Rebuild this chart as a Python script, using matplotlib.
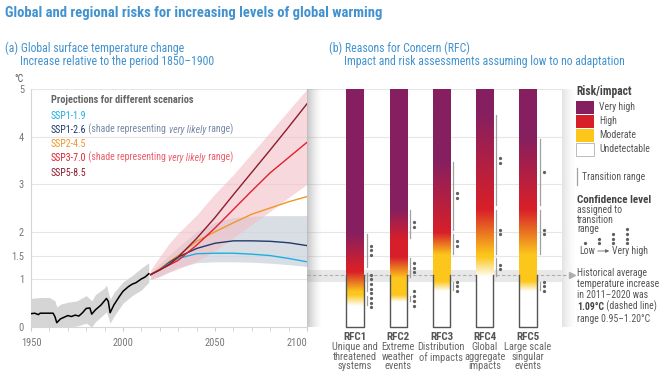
import numpy as np
import matplotlib
matplotlib.use("Agg")
import matplotlib.pyplot as plt
from matplotlib import transforms
from matplotlib.colors import to_rgb
from matplotlib.patches import Rectangle

plt.rcParams['font.family'] = ['Roboto Condensed', 'DejaVu Sans']

W, H = 672, 378

# ---- data ----
hist_years = [1950, 1952, 1954, 1955, 1960, 1962, 1963, 1964, 1965, 1966, 1970, 1972,
              1974, 1976, 1978, 1980, 1982, 1983, 1985, 1988, 1991, 1992, 1993, 1995,
              1998, 2000, 2003, 2005, 2007, 2010, 2012, 2014]
hist_temp = [0.28, 0.29, 0.26, 0.29, 0.29, 0.29, 0.22, 0.09, 0.13, 0.17, 0.24, 0.22,
             0.25, 0.23, 0.30, 0.39, 0.40, 0.27, 0.36, 0.46, 0.60, 0.54, 0.30, 0.46,
             0.64, 0.75, 0.85, 0.90, 0.93, 1.01, 1.05, 1.12]
band_years = [1950, 1955, 1960, 1963, 1964, 1966, 1970, 1975, 1980, 1983, 1985, 1990,
              1991, 1993, 1995, 2000, 2005, 2010, 2014]
band_hi = [0.60, 0.62, 0.62, 0.55, 0.42, 0.48, 0.52, 0.55, 0.66, 0.55, 0.68, 0.82,
           0.88, 0.58, 0.72, 0.95, 1.08, 1.24, 1.35]
band_lo = [0.0, 0.0, 0.0, 0.0, 0.0, 0.0, 0.0, 0.02, 0.08, 0.0, 0.11, 0.28,
           0.32, 0.08, 0.22, 0.50, 0.66, 0.78, 0.94]

proj_years = [2015, 2020, 2025, 2030, 2040, 2050, 2060, 2070, 2080, 2090, 2100]
ssp119 = [1.10, 1.20, 1.33, 1.44, 1.54, 1.55, 1.55, 1.53, 1.50, 1.44, 1.37]
ssp126 = [1.10, 1.20, 1.35, 1.47, 1.65, 1.76, 1.81, 1.81, 1.80, 1.77, 1.71]
ssp245 = [1.10, 1.22, 1.37, 1.50, 1.80, 2.00, 2.19, 2.37, 2.50, 2.63, 2.74]
ssp370 = [1.10, 1.20, 1.30, 1.40, 1.72, 2.08, 2.47, 2.86, 3.24, 3.56, 3.88]
ssp585 = [1.10, 1.20, 1.31, 1.47, 1.86, 2.30, 2.78, 3.25, 3.72, 4.20, 4.69]
ssp126_lo = [1.00, 1.06, 1.16, 1.25, 1.35, 1.37, 1.37, 1.36, 1.34, 1.31, 1.27]
ssp126_hi = [1.15, 1.33, 1.50, 1.68, 2.00, 2.20, 2.30, 2.33, 2.34, 2.34, 2.34]
ssp370_lo = [1.00, 1.07, 1.15, 1.22, 1.38, 1.60, 1.88, 2.15, 2.43, 2.72, 3.00]
ssp370_hi = [1.20, 1.48, 1.75, 1.97, 2.35, 2.80, 3.20, 3.65, 4.10, 4.55, 5.00]

rfc_names = ["RFC1", "RFC2", "RFC3", "RFC4", "RFC5"]
rfc_desc = ["Unique and\nthreatened\nsystems", "Extreme\nweather\nevents",
            "Distribution\nof impacts", "Global\naggregate\nimpacts",
            "Large scale\nsingular\nevents"]
# transition ranges (°C): undetectable->moderate, moderate->high, high->very high
rfc_trans = [
    [(0.44, 0.68), (0.74, 1.16), (1.24, 1.98)],
    [(0.53, 0.67), (1.03, 1.47), (1.84, 2.47)],
    [(0.75, 0.96), (1.52, 1.98), (2.02, 3.49)],
    [(1.05, 1.47), (1.52, 2.47), (2.54, 4.47)],
    [(0.75, 0.96), (1.52, 2.47), (2.54, 3.98)],
]
rfc_conf = [[4, 4, 3], [4, 3, 2], [3, 2, 2], [2, 2, 2], [3, 2, 1]]
hist_mean = 1.09
hist_range = (0.95, 1.20)

levels = ["Very high", "High", "Moderate", "Undetectable"]
level_colors = ['#ffffff', '#fcc61b', '#d71f2a', '#861f60']  # undetectable .. very high

BLUE = '#4292cf'


def px_axes(x0, x1, y0, y1):
    # figure rect from pixel edges (y measured from top)
    return [x0 / W, 1 - y1 / H, (x1 - x0) / W, (y1 - y0) / H]


fig = plt.figure(figsize=(W / 100, H / 100), dpi=100)

# ---- (a) temperature panel ----
ax = fig.add_axes(px_axes(31, 307, 89, 327))
for g in [1, 1.5, 2, 3, 4, 5]:
    ax.axhline(g, color='#e6e6e6', lw=0.8, zorder=0)
ax.fill_between(band_years, band_lo, band_hi, color='#d5d5d5', lw=0, zorder=1)
ax.plot(hist_years, hist_temp, color='black', lw=1.1, zorder=3)
ax.fill_between(proj_years, ssp126_lo, ssp126_hi, color='#cdd3dd', alpha=0.75, lw=0, zorder=1)
ax.fill_between(proj_years, ssp370_lo, ssp370_hi, color='#f3bfc6', alpha=0.6, lw=0, zorder=1)
ax.plot(proj_years, ssp245, color='#f0962a', lw=1.0, zorder=3)
ax.plot(proj_years, ssp126, color='#1f3a6b', lw=1.0, zorder=3)
ax.plot(proj_years, ssp119, color='#1cb0e0', lw=1.0, zorder=3)
ax.plot(proj_years, ssp370, color='#e3202b', lw=1.0, zorder=3)
ax.plot(proj_years, ssp585, color='#8e1b2e', lw=1.0, zorder=3)
ax.set_xlim(1950, 2100)
ax.set_ylim(0, 5)
ax.set_yticks([0, 1, 1.5, 2, 3, 4, 5])
ax.set_yticklabels(['0', '1', '1.5', '2', '3', '4', '5'])
ax.set_xticks([1950, 2000, 2050, 2100])
ax.set_xticks(range(1960, 2100, 10), minor=True)
ax.tick_params(axis='y', length=0, pad=5, labelsize=7.5, labelcolor='#777777')
ax.tick_params(axis='x', which='both', length=3, color='#cccccc', pad=5,
               labelsize=7.5, labelcolor='#777777')
ax.get_xticklabels()[-1].set_ha('right')
for s in ['top', 'right']:
    ax.spines[s].set_visible(False)
for s in ['left', 'bottom']:
    ax.spines[s].set_color('#d6d6d6')
    ax.spines[s].set_linewidth(0.8)

# ---- (b) reasons for concern panel ----
axr = fig.add_axes(px_axes(307, 562, 89, 327))
axr.axhspan(*hist_range, color='#e8e8e8', lw=0, zorder=0)
for g in [1.5, 2, 3, 4, 5]:
    axr.axhline(g, color='#e6e6e6', lw=0.8, zorder=0)
bt = transforms.blended_transform_factory(axr.transAxes, axr.transData)
axr.plot([0, 1.025], [hist_mean, hist_mean], color='#b0b0b0', lw=0.8,
         ls=(0, (3, 2)), transform=bt, clip_on=False, zorder=1)
axr.plot([1.04], [hist_mean], marker='>', ms=4, color='#b0b0b0', transform=bt,
         clip_on=False)

tgrid = np.linspace(0, 5, 600)
for i, trans in enumerate(rfc_trans):
    st, sc = [0.0], [level_colors[0]]
    for k, (a, b) in enumerate(trans):
        st += [a, b]
        sc += [level_colors[k], level_colors[k + 1]]
    st.append(5.0)
    sc.append(level_colors[-1])
    rgb = np.array([to_rgb(c) for c in sc])
    img = np.stack([np.interp(tgrid, st, rgb[:, j]) for j in range(3)], axis=-1)[:, None, :]
    axr.imshow(img, extent=(i - 0.2, i + 0.2, 0, 5), origin='lower', aspect='auto',
               interpolation='bilinear', zorder=2)
    axr.plot([i - 0.2, i - 0.2, i + 0.2, i + 0.2], [hist_mean, 0, 0, hist_mean],
             color='#555555', lw=1.0, zorder=3, clip_on=False)
    for (a, b), n in zip(trans, rfc_conf[i]):
        axr.plot([i + 0.27, i + 0.27], [a + 0.02, b - 0.02], color='#a0a0a0', lw=0.9, zorder=3)
        mid = (a + b) / 2
        ys = mid + (np.arange(n) - (n - 1) / 2) * 0.1
        axr.scatter([i + 0.36] * n, ys, s=5.5, color='#606060', lw=0, zorder=3)
axr.set_xlim(-1.108, 4.785)
axr.set_ylim(0, 5)
axr.axis('off')

# ---- overlay in pixel coordinates: shadows and text ----
ov = fig.add_axes([0, 0, 1, 1], zorder=10)


def shadow(x0, x1, y0, y1, amax):
    a = amax * (1 - np.linspace(0, 1, 40)) ** 1.6
    rgba = np.zeros((1, 40, 4))
    rgba[..., :3] = 0.55
    rgba[..., 3] = a
    ov.imshow(rgba, extent=(x0, x1, y1, y0), aspect='auto', interpolation='bilinear')


shadow(307, 323, 89, 327, 0.5)
shadow(562, 577, 89, 327, 0.25)
ov.set_xlim(0, W)
ov.set_ylim(H, 0)
ov.axis('off')


def rich(x, y, parts, size=7):
    prev = None
    for s, color, style, weight in parts:
        kw = dict(fontsize=size, color=color, fontstyle=style, fontweight=weight)
        if prev is None:
            prev = ov.text(x, y, s, va='center', ha='left', **kw)
        else:
            prev = ov.annotate(s, xy=(1, 0), xycoords=prev, va='bottom', ha='left', **kw)


ov.text(5, 13, "Global and regional risks for increasing levels of global warming",
        fontsize=10.5, fontweight='bold', color=BLUE, va='center')
ov.text(5, 48, "(a) Global surface temperature change", fontsize=8.5, color=BLUE, va='center')
ov.text(20, 61, "Increase relative to the period 1850–1900", fontsize=8.5, color=BLUE, va='center')
ov.text(329, 48, "(b) Reasons for Concern (RFC)", fontsize=8.5, color=BLUE, va='center')
ov.text(344, 61, "Impact and risk assessments assuming low to no adaptation", fontsize=8.5,
        color=BLUE, va='center')
ov.text(19, 79, "°C", fontsize=7, color='#555555', ha='center', va='center')

ov.text(51, 100, "Projections for different scenarios", fontsize=7.5, fontweight='bold',
        color='#666666', va='center')
rich(51, 116, [("SSP1-1.9", '#1cb0e0', 'normal', 'normal')], size=7.1)
rich(51, 130, [("SSP1-2.6", '#1f3a6b', 'normal', 'normal'),
               (" (shade representing ", '#7a88a6', 'normal', 'normal'),
               ("very likely", '#7a88a6', 'italic', 'normal'),
               (" range)", '#7a88a6', 'normal', 'normal')], size=7.1)
rich(51, 144, [("SSP2-4.5", '#f0962a', 'normal', 'normal')], size=7.1)
rich(51, 158, [("SSP3-7.0", '#e3202b', 'normal', 'normal'),
               (" (shade representing ", '#ea5f6a', 'normal', 'normal'),
               ("very likely", '#ea5f6a', 'italic', 'normal'),
               (" range)", '#ea5f6a', 'normal', 'normal')], size=7.1)
rich(51, 173, [("SSP5-8.5", '#8e1b2e', 'normal', 'normal')], size=7.1)

lab_t = transforms.blended_transform_factory(axr.transData, ov.transData)
for i, (nm, ds) in enumerate(zip(rfc_names, rfc_desc)):
    ov.text(i, 337, nm, transform=lab_t, ha='center', va='center', fontsize=8,
            fontweight='bold', color='#555555')
    ov.text(i, 342.5, ds, transform=lab_t, ha='center', va='top', fontsize=7.5,
            color='#666666', linespacing=0.92)

# legend
ov.text(576, 91, "Risk/impact", fontsize=8.3, fontweight='bold', color='#444444', va='center')
sw_y = [101, 115, 129, 143]
for lv, y, c in zip(levels, sw_y, level_colors[::-1]):
    ov.add_patch(Rectangle((576, y), 18, 12.5, facecolor=c,
                           edgecolor='#bbbbbb' if c == '#ffffff' else 'none', lw=0.7))
    ov.text(599, y + 6.5, lv, fontsize=7, color='#555555', va='center')
ov.plot([577, 577], [168, 185], color='#a0a0a0', lw=0.9)
ov.text(582, 177, "Transition range", fontsize=7, color='#555555', va='center')
ov.text(577, 200, "Confidence level", fontsize=8, fontweight='bold', color='#444444', va='center')
ov.text(577, 205, "assigned to\ntransition\nrange", fontsize=7, color='#555555', va='top',
        linespacing=0.95)
for k, cx in enumerate([585, 599, 613, 627]):
    n = k + 1
    ov.scatter([cx] * n, [243.3 - 4.7 * j for j in range(n)], s=5.5, color='#606060', lw=0)
ov.text(579, 251, "Low", fontsize=7, color='#555555', va='center')
ov.annotate("", xy=(612, 251), xytext=(595, 251),
            arrowprops=dict(arrowstyle='-|>', color='#666666', lw=0.6, mutation_scale=5))
ov.text(612, 251, "Very high", fontsize=7, color='#555555', va='center')

ov.text(577, 268, "Historical average\ntemperature increase\nin 2011–2020 was",
        fontsize=7, color='#555555', va='top', linespacing=1.15)
rich(577, 307.5, [("1.09°C", '#444444', 'normal', 'bold'),
                  (" (dashed line)", '#555555', 'normal', 'normal')], size=7)
ov.text(577, 319, "range 0.95–1.20°C", fontsize=7, color='#555555', va='center')

fig.savefig("out.png", dpi=100)
